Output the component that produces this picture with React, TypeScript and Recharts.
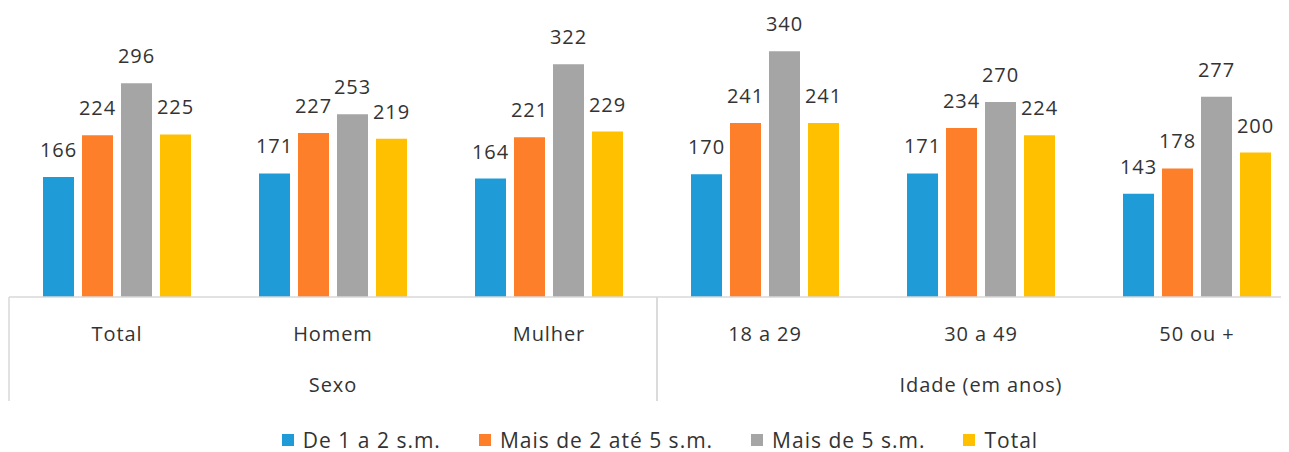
import React from "react";
import { BarChart, Bar, XAxis, YAxis, Legend, LabelList } from "recharts";

const categories = ["Total", "Homem", "Mulher", "18 a 29", "30 a 49", "50 ou +"];
const groups = ["Sexo", "Sexo", "Sexo", "Idade (em anos)", "Idade (em anos)", "Idade (em anos)"];
const de1a2 = [166, 171, 164, 170, 171, 143];
const mais2a5 = [224, 227, 221, 241, 234, 178];
const mais5 = [296, 253, 322, 340, 270, 277];
const totalSerie = [225, 219, 229, 241, 224, 200];

const seriesNames = ["De 1 a 2 s.m.", "Mais de 2 até 5 s.m.", "Mais de 5 s.m.", "Total"];
const colors = ["#1F9BD7", "#FE7F2A", "#A5A5A5", "#FFC000"];

const data = categories.map((c, i) => ({
  cat: c,
  group: groups[i],
  s0: de1a2[i],
  s1: mais2a5[i],
  s2: mais5[i],
  s3: totalSerie[i],
}));

const FONT = "'Open Sans', sans-serif";
const TEXT = "#333333";
const GRID = "#D9D9D9";

const CatTick = (props: any) => {
  const { x, y, payload } = props;
  return (
    <text x={x} y={y + 36} textAnchor="middle" fill={TEXT} fontFamily={FONT} fontSize={20} letterSpacing={0.9}>
      {payload.value}
    </text>
  );
};

const GroupTick = (props: any) => {
  const { x, y, payload } = props;
  const half = payload && typeof payload.offset === "number" ? payload.offset : 0;
  const left = x - half;
  const right = x + half;
  return (
    <g>
      <line x1={left} x2={left} y1={y - 58} y2={y + 46} stroke={GRID} strokeWidth={1.5} />
      <line x1={right} x2={right} y1={y - 58} y2={y + 46} stroke={GRID} strokeWidth={1.5} />
      <text x={x} y={y + 37} textAnchor="middle" fill={TEXT} fontFamily={FONT} fontSize={20} letterSpacing={0.9}>
        {payload.value}
      </text>
    </g>
  );
};

const LegendContent = () => (
  <div
    style={{
      height: 45,
      paddingTop: 20,
      paddingLeft: 6,
      boxSizing: "border-box",
      display: "flex",
      justifyContent: "center",
      alignItems: "center",
      fontFamily: FONT,
      fontSize: 21,
      letterSpacing: 1,
      color: TEXT,
    }}
  >
    {seriesNames.map((n, i) => (
      <div key={n} style={{ display: "flex", alignItems: "center", marginLeft: i === 0 ? 0 : 38 }}>
        <div style={{ width: 12, height: 12, background: colors[i], marginRight: 9 }} />
        <span style={{ whiteSpace: "nowrap" }}>{n}</span>
      </div>
    ))}
  </div>
);

const keys = ["s0", "s1", "s2", "s3"];

export default function App() {
  return (
    <div style={{ width: 1281, height: 444, overflow: "hidden", background: "#fff" }}>
      <BarChart
        width={1300}
        height={444}
        data={data}
        margin={{ top: 0, right: 3, bottom: 0, left: 1 }}
        barSize={31}
        barGap={8}
      >
        <XAxis
          dataKey="cat"
          height={50}
          tickLine={false}
          axisLine={{ stroke: GRID, strokeWidth: 1.5 }}
          tick={<CatTick />}
          interval={0}
        />
        <XAxis
          xAxisId="g"
          dataKey="group"
          allowDuplicatedCategory={false}
          height={60}
          tickLine={false}
          axisLine={false}
          tick={<GroupTick />}
          interval={0}
        />
        <YAxis hide domain={[0, 400]} />
        <Legend verticalAlign="bottom" content={<LegendContent />} />
        {keys.map((k, i) => (
          <Bar key={k} dataKey={k} name={seriesNames[i]} fill={colors[i]} isAnimationActive={false}>
            <LabelList
              dataKey={k}
              position="top"
              offset={20}
              fill={TEXT}
              fontFamily={FONT}
              fontSize={20}
              letterSpacing={0.9}
            />
          </Bar>
        ))}
      </BarChart>
    </div>
  );
}
